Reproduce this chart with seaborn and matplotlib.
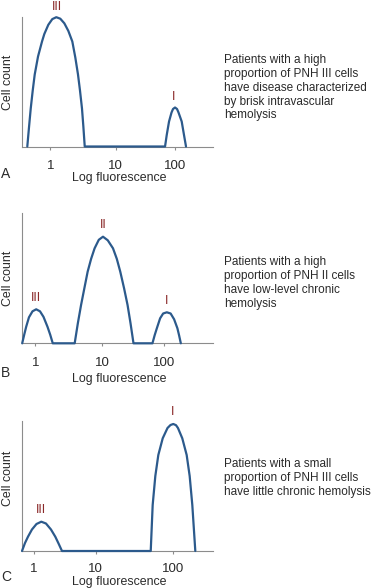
import matplotlib
matplotlib.use("Agg")
import matplotlib.pyplot as plt
import pandas as pd
import seaborn as sns

# x values are log10(fluorescence); y is cell count in arbitrary units (axis top = 130)
# panel A
A_X = [-0.369, -0.342, -0.314, -0.282, -0.250, -0.197, -0.133, -0.096, -0.032, 0.032, 0.096,
       0.160, 0.225, 0.289, 0.353, 0.401, 0.444, 0.476, 0.508, 0.530, 0.552,
       1.840, 1.867, 1.904, 1.944, 1.968, 2.000, 2.032, 2.056, 2.107, 2.144, 2.176]
A_Y = [0, 19, 38, 56, 72, 90, 105, 112.5, 121.7, 127.4, 129.3,
       127.8, 123.2, 115.6, 105, 89, 72, 56, 38, 20, 0,
       0, 11.5, 25, 34, 37.5, 39, 37.5, 34, 25, 11.5, 0]
# panel B
B_X = [-0.206, -0.175, -0.144, -0.101, -0.046, 0.011, 0.070, 0.124, 0.186, 0.229, 0.268,
       0.608, 0.657, 0.707, 0.758, 0.809, 0.863, 0.917, 0.982, 1.047, 1.121, 1.202, 1.261,
       1.315, 1.374, 1.428, 1.474, 1.520,
       1.814, 1.848, 1.882, 1.933, 1.980, 2.037, 2.096, 2.150, 2.201, 2.227, 2.254]
B_Y = [0, 8.5, 16.6, 26, 32, 34, 32, 26.5, 16.6, 8.5, 0,
       0, 20, 38.3, 55, 71.6, 84.5, 95, 103.5, 106.6, 103, 95, 84.5,
       71.6, 55, 38.3, 20, 0,
       0, 8, 15, 25, 29.8, 31, 29.8, 24, 15, 8, 0]
# panel C
C_X = [-0.172, -0.129, -0.086, -0.029, 0.036, 0.105, 0.172, 0.244, 0.306, 0.356, 0.402,
       1.676, 1.704, 1.742, 1.785, 1.848, 1.917, 1.960, 2.000, 2.039, 2.067, 2.129, 2.192,
       2.235, 2.273, 2.316]
C_Y = [0, 8, 14.3, 21.5, 27, 29.3, 27.5, 21.5, 14.3, 7, 0,
       0, 46, 75, 96, 112.7, 123, 126, 127, 125.8, 123, 112.7, 96,
       75, 46, 0]

TICK_LABELS = ["1", "10", "100"]
# the hand-drawn axes are not evenly spaced, so the "10" tick sits differently per panel
A_TICKS = [0, 1.05, 2]
B_TICKS = [0, 1.036, 2]
C_TICKS = [0, 0.886, 2]

A_PEAKS = [("III", 0.103, 140), ("I", 1.984, 49.6)]
B_PEAKS = [("III", 0.011, 45.6), ("II", 1.056, 118.3), ("I", 2.037, 42.6)]
C_PEAKS = [("III", 0.105, 41), ("I", 1.986, 139.3)]

A_TEXT = "Patients with a high\nproportion of PNH III cells\nhave disease characterized\nby brisk intravascular\nhemolysis"
B_TEXT = "Patients with a high\nproportion of PNH II cells\nhave low-level chronic\nhemolysis"
C_TEXT = "Patients with a small\nproportion of PNH III cells\nhave little chronic hemolysis"

W, H = 371, 588
LINE_COLOR = "#2c5a8c"
PEAK_COLOR = "#8b2a2a"
AXIS_COLOR = "#8c8c8c"
TEXT_COLOR = "#2a2a2a"

sns.set_theme(style="white")
plt.rcParams["font.family"] = ["Liberation Sans", "DejaVu Sans"]

fig = plt.figure(figsize=(W / 100, H / 100), dpi=100)

# letter, data, ticks, xlim, peaks, text, axis baseline (px), letter y (px), text y (px),
# tick pad (pt), xlabel y (axes frac), ylabel y (axes frac)
panels = [
    ("A", A_X, A_Y, A_TICKS, (-0.454, 2.609), A_PEAKS, A_TEXT, 146.5, 174, 87.7, 7.4, -0.195, 0.491),
    ("B", B_X, B_Y, B_TICKS, (-0.209, 2.753), B_PEAKS, B_TEXT, 343.3, 372.7, 283, 7.4, -0.225, 0.502),
    ("C", C_X, C_Y, C_TICKS, (-0.172, 2.570), C_PEAKS, C_TEXT, 551, 577.3, 478.2, 6.1, -0.195, 0.559),
]

for (letter, xs, ys, ticks, xlim, peaks, desc, base_px, letter_px, desc_px,
     tick_pad, xlab_y, ylab_y) in panels:
    ax = fig.add_axes([22 / W, 1 - base_px / H, 191 / W, 130 / H])
    df = pd.DataFrame({"log_fluorescence": xs, "cell_count": ys})
    sns.lineplot(data=df, x="log_fluorescence", y="cell_count", sort=False, estimator=None,
                 color=LINE_COLOR, linewidth=1.6, ax=ax, clip_on=False, zorder=3)

    ax.set_xlim(*xlim)
    ax.set_ylim(0, 130)
    ax.set_xticks(ticks)
    ax.set_xticklabels(TICK_LABELS)
    ax.set_yticks([])
    for side in ("top", "right"):
        ax.spines[side].set_visible(False)
    for side in ("left", "bottom"):
        ax.spines[side].set_color(AXIS_COLOR)
        ax.spines[side].set_linewidth(0.8)
    ax.tick_params(axis="x", direction="out", length=2.5, width=0.8, color=AXIS_COLOR,
                   pad=tick_pad, labelsize=9.5, labelcolor=TEXT_COLOR, bottom=True)
    ax.set_xlabel("Log fluorescence", fontsize=8.9, color=TEXT_COLOR)
    ax.set_ylabel("Cell count", fontsize=8.9, color=TEXT_COLOR)
    ax.xaxis.set_label_coords(0.51, xlab_y)
    ax.yaxis.set_label_coords(-0.043, ylab_y)
    ax.patch.set_alpha(0)

    for name, px, py in peaks:
        ax.text(px, py, name, color=PEAK_COLOR, fontsize=9, ha="center", va="center")

    fig.text(1 / W, 1 - letter_px / H, letter, fontsize=10, color=TEXT_COLOR, ha="left", va="center")
    fig.text(224 / W, 1 - desc_px / H, desc, fontsize=8.5, color=TEXT_COLOR, ha="left",
             va="center", linespacing=1.2)

fig.savefig("out.png", dpi=100)
